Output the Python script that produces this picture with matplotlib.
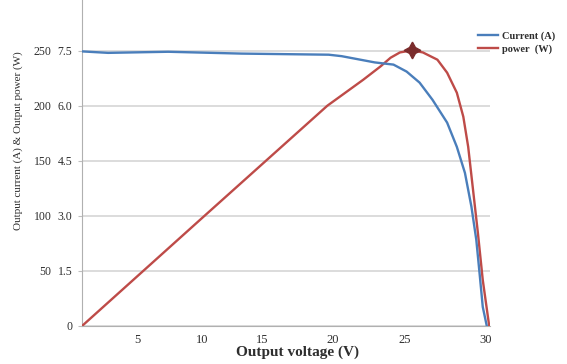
import numpy as np
import matplotlib
matplotlib.use("Agg")
import matplotlib.pyplot as plt
from matplotlib.scale import FuncScale
from matplotlib.lines import Line2D

plt.rcParams['font.family'] = ['Liberation Serif', 'DejaVu Serif']

# ---- data ----
current_v = [1.0, 2.9, 7.4, 13.3, 19.7, 20.6, 22.9, 24.2, 25.1, 25.9, 26.7, 27.6,
             28.2, 28.7, 29.1, 29.4, 29.6, 29.8, 30.05]
current_a = [7.48, 7.44, 7.47, 7.42, 7.39, 7.35, 7.18, 7.12, 6.93, 6.63, 6.16, 5.54,
             4.88, 4.17, 3.25, 2.35, 1.45, 0.52, 0.0]

power_v = [1.0, 9.85, 19.6, 22.1, 23.3, 24.0, 24.65, 25.43, 26.1, 27.0, 27.6, 28.2,
           28.6, 28.9, 29.2, 29.5, 29.8, 30.2]
power_w = [0.0, 96.4, 200.0, 223.6, 235.7, 243.6, 248.4, 250.3, 248.4, 241.8, 230.0,
           211.8, 190.0, 162.7, 123.6, 84.5, 41.8, 0.0]

peak_v = [25.43]
peak_w = [250.3]

x_ticks = [5, 10, 15, 20, 25, 30]
power_ticks = [0, 50, 100, 150, 200, 250]
power_labels = ['', '50', '100', '150', '200', '250']
current_ticks = [0, 1.5, 3.0, 4.5, 6.0, 7.5]
current_labels = ['0', '1.5', '3.0', '4.5', '6.0', '7.5']

# category-like (non-uniform) spacing of the voltage axis
axis_v = [1, 5, 10, 15, 20, 25, 30, 31]
axis_pos = [0, 55, 120, 180, 251, 323, 404, 420]

def fwd(v):
    return np.interp(v, axis_v, axis_pos)

def inv(p):
    return np.interp(p, axis_pos, axis_v)

text_c = '#2E2E2E'
blue = '#4A7EBB'
red = '#BE4B48'

fig = plt.figure(figsize=(5.67, 3.64), dpi=100)
ax = fig.add_axes([82/567, 38/364, (490-82)/567, 326/364])
ax.set_xscale(FuncScale(ax, (fwd, inv)))
ax.set_xlim(1, 30.25)
ax.set_ylim(0, 296)

ax2 = ax.twinx()
ax2.set_ylim(0, 296 * 7.5 / 250)

ax.plot(power_v, power_w, color=red, lw=1.7, solid_capstyle='round', solid_joinstyle='round', zorder=3)
ax.plot(peak_v, peak_w, marker=(4, 1, 0), color='#7B2C2C', markersize=12, zorder=4, ls='none')
ax2.plot(current_v, current_a, color=blue, lw=1.7, solid_capstyle='round', solid_joinstyle='round', zorder=2)

ax.set_yticks(power_ticks)
ax.set_yticklabels(power_labels)
ax2.set_yticks(current_ticks)
ax2.set_yticklabels(current_labels)
ax2.yaxis.tick_left()
ax.tick_params(axis='y', length=3, color='#BFBFBF', pad=19, labelsize=8.5, labelcolor=text_c)
ax2.tick_params(axis='y', length=0, pad=7, labelsize=8.5, labelcolor=text_c)

ax.set_xticks(x_ticks)
ax.set_xticklabels([str(t) for t in x_ticks])
ax.xaxis.set_minor_locator(plt.NullLocator())
ax.tick_params(axis='x', length=0, pad=6, labelsize=9, labelcolor=text_c)

ax.grid(axis='y', color='#D9D9D9', lw=1.3)
ax.set_axisbelow(True)
for a in (ax, ax2):
    a.spines['top'].set_visible(False)
    a.spines['right'].set_visible(False)
    a.spines['left'].set_color('#B0B0B0')
    a.spines['bottom'].set_color('#B0B0B0')
    a.patch.set_visible(False)
ax2.spines['left'].set_visible(False)
ax2.spines['bottom'].set_visible(False)

fig.text(298/567, 1 - 352/364, 'Output voltage (V)', ha='center', va='center',
         fontsize=11, fontweight='bold', color=text_c)
fig.text(18/567, 1 - 141/364, 'Output current (A) & Output power (W)', rotation=90,
         ha='center', va='center', fontsize=8, color=text_c)

handles = [Line2D([], [], color=blue, lw=1.7), Line2D([], [], color=red, lw=1.7)]
fig.legend(handles, ['Current (A)', 'power  (W)'], loc='upper left',
           bbox_to_anchor=(474/567, 1 - 27/364), frameon=False,
           prop={'size': 7.5, 'weight': 'bold'}, labelcolor=text_c,
           handlelength=1.9, handletextpad=0.35, labelspacing=0.3, borderaxespad=0)

fig.savefig('out.png', dpi=100)
